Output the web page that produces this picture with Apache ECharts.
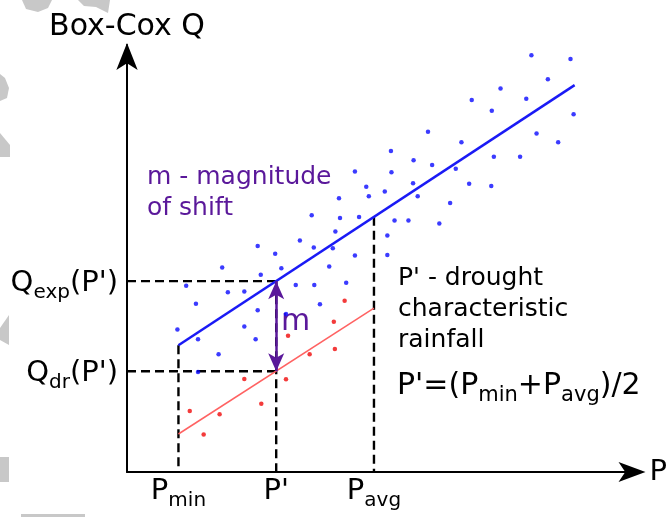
<!DOCTYPE html>
<html><head><meta charset="utf-8">
<script src="https://cdn.jsdelivr.net/npm/echarts@6/dist/echarts.min.js"></script>
<style>html,body{margin:0;padding:0;background:#fff}#c{width:670px;height:517px}</style>
</head><body><div id="c"></div>
<script>
// ---- data (arbitrary units, x: rainfall P, y: Box-Cox Q) ----
const xTicks = [10, 29, 48];               // P_min, P', P_avg
const xTickLabels = ['{p|P}{s|min}', "{p|P'}", '{p|P}{s|avg}'];
const yTicks = [23.6, 44.7];               // Q_dr(P'), Q_exp(P')
const yTickLabels = ["{p|Q}{s|dr}{p|(P')}", "{p|Q}{s|exp}{p|(P')}"];

const blueX = [25.4, 28.8, 18.5, 26.0, 30.0, 11.5, 19.6, 22.8, 13.4, 25.4, 9.8, 22.8, 13.8, 25.0, 17.8, 13.8,
  33.6, 36.3, 40.5, 40.0, 44.3, 50.6, 39.3, 32.8, 36.4, 42.6, 37.5, 30.9, 44.3, 46.5, 47.0, 50.1,
  41.2, 35.9, 41.4, 45.1, 50.6, 78.6, 86.2, 81.8, 72.6, 77.6, 67.0, 70.9, 86.8, 58.5, 79.6, 83.8,
  65.0, 51.3, 71.3, 76.4, 55.7, 59.3, 63.9, 51.4, 55.6, 66.5, 70.8, 56.5, 62.8, 52.0, 54.7, 60.7];
const blueY = [52.9, 51.1, 47.9, 46.2, 47.7, 43.6, 42.1, 42.3, 39.4, 37.9, 33.4, 34.1, 31.1, 31.1, 27.6, 23.4,
  54.2, 52.6, 56.3, 52.4, 50.7, 50.8, 48.1, 43.8, 43.8, 44.3, 39.3, 37.0, 70.4, 66.8, 64.6, 65.7,
  64.1, 60.1, 59.5, 59.7, 55.4, 97.6, 96.7, 92.0, 89.8, 87.4, 87.1, 84.6, 83.8, 79.7, 79.3, 77.2,
  77.2, 75.2, 73.8, 73.8, 73.0, 71.9, 71.0, 70.2, 67.6, 67.5, 67.0, 64.6, 63.0, 58.9, 58.9, 58.2];
const redX = [42.3, 40.2, 31.3, 40.4, 35.5, 22.8, 30.9, 26.1, 12.2, 18.0, 14.9];
const redY = [40.1, 35.2, 31.9, 28.8, 27.6, 21.8, 21.7, 16.0, 14.3, 13.5, 8.8];

const blueLineX = [10, 87];
const blueLineY = [29.7, 90.6];
const redLineX = [10, 48];
const redLineY = [8.9, 38.4];

const qExp = 44.7, qDr = 23.6, pMin = 10, pPrime = 29, pAvg = 48;
const pMinTop = 29.7, pAvgTop = 59.8;

// ---- chart ----
const FONT = '"DejaVu Sans", Verdana, sans-serif';
const zip = (a, b) => a.map((v, i) => [v, b[i]]);
const richLabel = {
  p: { fontFamily: FONT, fontSize: 29, color: '#000', lineHeight: 32, verticalAlign: 'top' },
  s: { fontFamily: FONT, fontSize: 20, color: '#000', lineHeight: 20, padding: [14, 0, 0, 0], verticalAlign: 'top' }
};
const richFormula = {
  p: { fontFamily: FONT, fontSize: 30, color: '#000', lineHeight: 32, verticalAlign: 'top' },
  s: { fontFamily: FONT, fontSize: 21, color: '#000', lineHeight: 21, padding: [14, 0, 0, 0], verticalAlign: 'top' }
};
const findLabel = (ticks, labels, v) => {
  const i = ticks.findIndex(t => Math.abs(t - v) < 1e-6);
  return i < 0 ? '' : labels[i];
};
const dashStyle = { color: '#000', width: 2.4, type: [9, 5] };
const guide = (pts) => ({
  type: 'line', data: pts, symbol: 'none', silent: true, z: 1,
  lineStyle: dashStyle
});
const grey = '#c8c8c8';
const purple = '#5a189a';

const chart = echarts.init(document.getElementById('c'), null, { renderer: 'canvas' });
chart.setOption({
  animation: false,
  backgroundColor: '#fff',
  grid: { left: 127, top: 45, width: 518, height: 427, containLabel: false },
  xAxis: {
    type: 'value', min: 0, max: 100,
    splitLine: { show: false }, axisTick: { show: false },
    axisLine: { lineStyle: { color: '#000', width: 2 }, symbol: ['none', 'arrow'], symbolSize: [15, 27], symbolOffset: [0, 4] },
    axisLabel: { customValues: xTicks, margin: 5, formatter: v => findLabel(xTicks, xTickLabels, v), rich: richLabel },
    name: 'P', nameLocation: 'end', nameGap: 8,
    nameTextStyle: { fontFamily: FONT, fontSize: 29, color: '#000', verticalAlign: 'middle' }
  },
  yAxis: {
    type: 'value', min: 0, max: 100,
    splitLine: { show: false }, axisTick: { show: false },
    axisLine: { lineStyle: { color: '#000', width: 2 }, symbol: ['none', 'arrow'], symbolSize: [16, 27], symbolOffset: [0, 2] },
    axisLabel: { customValues: yTicks, margin: 9, padding: [8, 0, 0, 0], formatter: v => findLabel(yTicks, yTickLabels, v), rich: richLabel },
    name: 'Box-Cox Q', nameLocation: 'end', nameGap: 3,
    nameTextStyle: { fontFamily: FONT, fontSize: 30, color: '#000', align: 'center', verticalAlign: 'bottom' }
  },
  series: [
    guide([[pMin, pMinTop], [pMin, 0]]),
    guide([[pPrime, qExp], [pPrime, 0]]),
    guide([[pAvg, pAvgTop], [pAvg, 0]]),
    guide([[0, qExp], [pPrime, qExp]]),
    guide([[0, qDr], [pPrime, qDr]]),
    { type: 'line', data: zip(redLineX, redLineY), symbol: 'none', z: 3, lineStyle: { color: '#ff6262', width: 1.5 } },
    { type: 'line', data: zip(blueLineX, blueLineY), symbol: 'none', z: 3, lineStyle: { color: '#1a1af5', width: 2.5 } },
    { type: 'scatter', data: zip(blueX, blueY), symbol: 'circle', symbolSize: 4.5, z: 4, itemStyle: { color: '#0a0aff' } },
    { type: 'scatter', data: zip(redX, redY), symbol: 'circle', symbolSize: 4.5, z: 4, itemStyle: { color: '#f00a0a' } },
    {
      type: 'line', data: [], z: 5,
      markLine: {
        silent: true, symbol: ['arrow', 'arrow'], symbolSize: [12, 18],
        label: { show: false },
        lineStyle: { color: purple, width: 2.5, type: 'solid' },
        data: [[{ coord: [pPrime, qExp] }, { coord: [pPrime, qDr] }]]
      }
    }
  ],
  graphic: [
    // light grey fragments at the left edge of the picture
    { type: 'polygon', shape: { points: [[22, 0], [52, 0], [48, 8], [38, 12], [26, 9]] }, style: { fill: grey } },
    { type: 'polygon', shape: { points: [[78, 0], [110, 0], [108, 13], [96, 7], [84, 6]] }, style: { fill: grey } },
    { type: 'polygon', shape: { points: [[0, 74], [5, 78], [9, 88], [7, 98], [0, 101]] }, style: { fill: grey } },
    { type: 'polygon', shape: { points: [[0, 133], [10, 145], [10, 157], [0, 157]] }, style: { fill: grey } },
    { type: 'polygon', shape: { points: [[0, 328], [9, 315], [9, 345], [0, 340]] }, style: { fill: grey } },
    { type: 'rect', shape: { x: 0, y: 457, width: 9, height: 25 }, style: { fill: grey } },
    { type: 'rect', shape: { x: 21, y: 514, width: 64, height: 3 }, style: { fill: grey } },
    // annotations
    { type: 'text', x: 147, y: 162, style: { text: 'm - magnitude\nof shift', font: '25px ' + FONT, fill: purple, lineHeight: 31, verticalAlign: 'top', align: 'left' } },
    { type: 'text', x: 281, y: 322, style: { text: 'm', font: '30px ' + FONT, fill: purple, verticalAlign: 'middle', align: 'left' } },
    { type: 'text', x: 398, y: 263, style: { text: "P' - drought\ncharacteristic\nrainfall", font: '25px ' + FONT, fill: '#000', lineHeight: 31, verticalAlign: 'top', align: 'left' } },
    { type: 'text', x: 397, y: 371, style: { text: "{p|P'=(P}{s|min}{p|+P}{s|avg}{p|)/2}", rich: richFormula, verticalAlign: 'top', align: 'left' } }
  ]
});
</script>
</body></html>
